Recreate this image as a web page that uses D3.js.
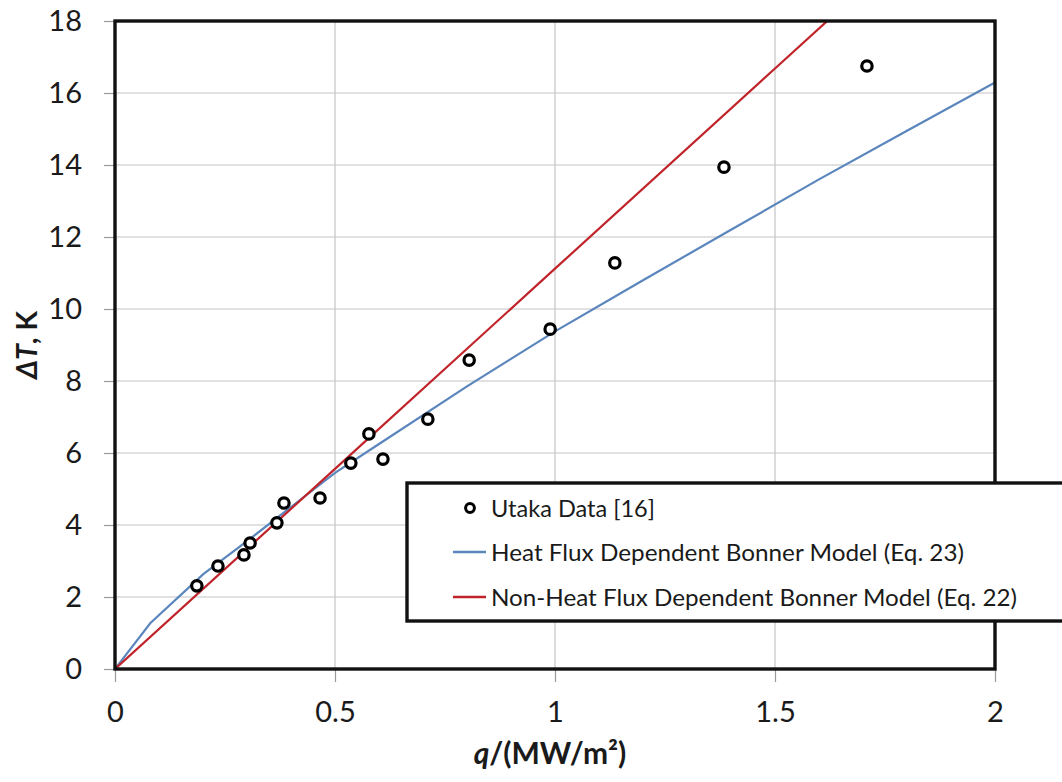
<!DOCTYPE html>
<html>
<head>
<meta charset="utf-8">
<script src="https://cdn.jsdelivr.net/npm/d3@7/dist/d3.min.js"></script>
<style>
  html, body { margin: 0; padding: 0; background: #fff; }
  svg { display: block; font-family: Lato, "Open Sans", sans-serif; }
</style>
</head>
<body>
<svg id="chart" width="1062" height="782"></svg>
<script>
// Measured data: heat flux q (MW/m²) and wall superheat ΔT (K)
const dataQ  = [0.186, 0.234, 0.293, 0.307, 0.368, 0.384, 0.466, 0.536, 0.577, 0.609, 0.711, 0.805, 0.989, 1.136, 1.384, 1.709];
const dataDT = [2.31, 2.86, 3.17, 3.50, 4.06, 4.61, 4.75, 5.72, 6.53, 5.83, 6.94, 8.58, 9.44, 11.28, 13.94, 16.75];

// Heat flux dependent Bonner model (Eq. 23)
const hfdQ  = [0, 0.08, 0.2, 0.3, 0.4, 0.5, 0.6, 0.8, 1.0, 1.2, 1.4, 1.6, 1.8, 2.0];
const hfdDT = [0, 1.27, 2.63, 3.55, 4.50, 5.45, 6.25, 7.85, 9.38, 10.80, 12.20, 13.60, 14.95, 16.29];

// Non-heat flux dependent Bonner model (Eq. 22)
const nhfQ  = [0, 0.5, 1.0, 1.5, 2.0];
const nhfDT = [0, 5.56, 11.12, 16.68, 22.24];

// Axis ticks
const xTicks = [0, 0.5, 1, 1.5, 2];
const xTickLabels = ["0", "0.5", "1", "1.5", "2"];
const yTicks = [0, 2, 4, 6, 8, 10, 12, 14, 16, 18];
const yTickLabels = ["0", "2", "4", "6", "8", "10", "12", "14", "16", "18"];

const legendLabels = ["Utaka Data [16]", "Heat Flux Dependent Bonner Model (Eq. 23)", "Non-Heat Flux Dependent Bonner Model (Eq. 22)"];

const colors = { hfd: "#5b86bd", nhf: "#c0242a", grid: "#c4c4c4", tick: "#9a9a9a", text: "#1a1a1a" };

const svg = d3.select("#chart");
const L = 115, R = 995, T = 21, B = 669;

const x = d3.scaleLinear().domain([0, 2]).range([L, R]);
const y = d3.scaleLinear().domain([0, 18]).range([B, T]);

// Gridlines
svg.append("g")
  .selectAll("line.h")
  .data(yTicks.filter(d => d > 0 && d < 18))
  .join("line")
  .attr("x1", L).attr("x2", R)
  .attr("y1", d => y(d)).attr("y2", d => y(d))
  .attr("stroke", colors.grid).attr("stroke-width", 1.2);
svg.append("g")
  .selectAll("line.v")
  .data(xTicks.filter(d => d > 0 && d < 2))
  .join("line")
  .attr("y1", T).attr("y2", B)
  .attr("x1", d => x(d)).attr("x2", d => x(d))
  .attr("stroke", colors.grid).attr("stroke-width", 1.2);

// Axes
const yAxis = svg.append("g")
  .attr("transform", `translate(${L},0)`)
  .call(d3.axisLeft(y).tickValues(yTicks).tickSize(11).tickPadding(22)
    .tickFormat((d, i) => yTickLabels[i]));
const xAxis = svg.append("g")
  .attr("transform", `translate(0,${B})`)
  .call(d3.axisBottom(x).tickValues(xTicks).tickSize(13).tickPadding(19)
    .tickFormat((d, i) => xTickLabels[i]));
[yAxis, xAxis].forEach(g => {
  g.select(".domain").remove();
  g.selectAll(".tick line").attr("stroke", colors.tick).attr("stroke-width", 1.2);
  g.selectAll(".tick text").attr("fill", colors.text)
    .style("font-size", "29px").style("font-family", "Lato, sans-serif");
});

// Clip for model curves
svg.append("clipPath").attr("id", "plotClip")
  .append("rect").attr("x", L).attr("y", T).attr("width", R - L).attr("height", B - T);

const line = d3.line().x(d => x(d[0])).y(d => y(d[1]));
const plot = svg.append("g").attr("clip-path", "url(#plotClip)");

plot.append("path")
  .datum(hfdQ.map((q, i) => [q, hfdDT[i]]))
  .attr("d", line).attr("fill", "none")
  .attr("stroke", colors.hfd).attr("stroke-width", 2.2);
plot.append("path")
  .datum(nhfQ.map((q, i) => [q, nhfDT[i]]))
  .attr("d", line).attr("fill", "none")
  .attr("stroke", colors.nhf).attr("stroke-width", 2.2);

// Frame
svg.append("rect")
  .attr("x", L).attr("y", T).attr("width", R - L).attr("height", B - T)
  .attr("fill", "none").attr("stroke", "#111").attr("stroke-width", 3.4);

// Data markers
svg.append("g")
  .selectAll("circle")
  .data(dataQ.map((q, i) => [q, dataDT[i]]))
  .join("circle")
  .attr("cx", d => x(d[0])).attr("cy", d => y(d[1]))
  .attr("r", 5.2).attr("fill", "#fff")
  .attr("stroke", "#000").attr("stroke-width", 3.2);

// Axis titles
const yTitle = svg.append("text")
  .attr("transform", "translate(37,345) rotate(-90)")
  .attr("text-anchor", "middle")
  .attr("fill", colors.text)
  .style("font-size", "28.5px").style("font-weight", "bold");
yTitle.append("tspan").style("font-style", "italic").text("ΔT");
yTitle.append("tspan").text(", K");

const xTitle = svg.append("text")
  .attr("x", 550).attr("y", 764)
  .attr("text-anchor", "middle")
  .attr("fill", colors.text)
  .style("font-size", "30px").style("font-weight", "bold");
xTitle.append("tspan").style("font-style", "italic").text("q");
xTitle.append("tspan").text("/(MW/m²)");

// Legend
const lg = svg.append("g");
lg.append("rect")
  .attr("x", 407).attr("y", 483).attr("width", 662).attr("height", 138)
  .attr("fill", "#fff").attr("stroke", "#111").attr("stroke-width", 3.4);

const rowY = [508, 552, 597];
const textW = [164, 473, 526];
lg.append("circle")
  .attr("cx", 470).attr("cy", rowY[0]).attr("r", 4.4)
  .attr("fill", "#fff").attr("stroke", "#000").attr("stroke-width", 3);
lg.append("line")
  .attr("x1", 453).attr("x2", 486).attr("y1", rowY[1]).attr("y2", rowY[1])
  .attr("stroke", colors.hfd).attr("stroke-width", 2.4);
lg.append("line")
  .attr("x1", 453).attr("x2", 486).attr("y1", rowY[2]).attr("y2", rowY[2])
  .attr("stroke", colors.nhf).attr("stroke-width", 2.4);

legendLabels.forEach((t, i) => {
  lg.append("text")
    .attr("x", 491).attr("y", rowY[i] + 8.5)
    .attr("fill", colors.text)
    .attr("textLength", textW[i]).attr("lengthAdjust", "spacingAndGlyphs")
    .style("font-size", "24px")
    .text(t);
});
</script>
</body>
</html>
